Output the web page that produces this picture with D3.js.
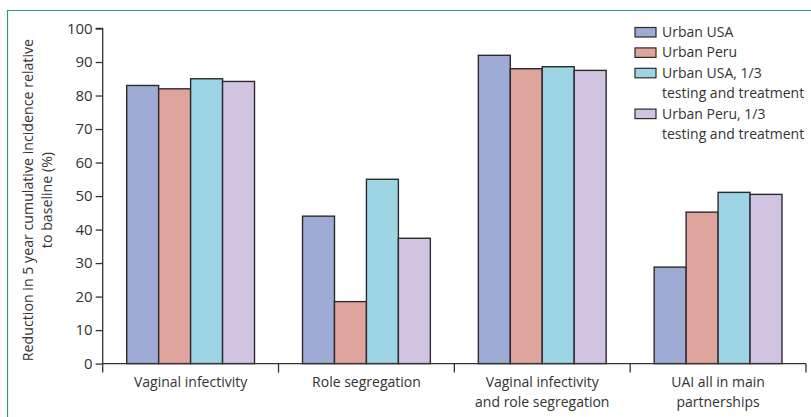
<!DOCTYPE html>
<html>
<head>
<meta charset="utf-8">
<script src="https://cdn.jsdelivr.net/npm/d3@7"></script>
<style>
    body { margin: 0; background: #fff; }
    text { font-family: 'Open Sans', sans-serif; fill: #333; }
</style>
</head>
<body>
<svg id="chart" width="811" height="417"></svg>
<script>
var categories = [
    ['Vaginal infectivity'],
    ['Role segregation'],
    ['Vaginal infectivity', 'and role segregation'],
    ['UAI all in main', 'partnerships']
];
var seriesNames = [
    ['Urban USA'],
    ['Urban Peru'],
    ['Urban USA, 1/3', 'testing and treatment'],
    ['Urban Peru, 1/3', 'testing and treatment']
];
var seriesColors = ['#9eabd4', '#e0a49f', '#9dd5e4', '#d2c4e0'];
var urbanUSA = [83, 44, 92, 28.8];
var urbanPeru = [82, 18.5, 88, 45.2];
var urbanUSA13 = [85, 55, 88.6, 51.1];
var urbanPeru13 = [84.2, 37.4, 87.5, 50.5];
var yTicks = [0, 10, 20, 30, 40, 50, 60, 70, 80, 90, 100];

var series = [urbanUSA, urbanPeru, urbanUSA13, urbanPeru13];

var svg = d3.select('#chart');

var plotLeft = 102.7,
    plotRight = 806,
    plotTop = 28.5,
    plotBottom = 363.6;

// green frame
svg.append('path')
    .attr('d', 'M7.5,417 V10.5 H811')
    .attr('fill', 'none')
    .attr('stroke', '#2e9c6c')
    .attr('stroke-width', 1.2);

var x = d3.scaleBand()
    .domain(d3.range(categories.length))
    .range([plotLeft, plotRight]);

var x1 = d3.scaleBand()
    .domain(d3.range(series.length))
    .range([24, x.bandwidth() - 24]);

var y = d3.scaleLinear()
    .domain([0, 100])
    .range([plotBottom, plotTop]);

// bars
var group = svg.append('g').attr('class', 'plot')
    .selectAll('.group')
    .data(categories)
    .enter().append('g')
    .attr('class', 'group')
    .attr('transform', function (d, i) {
        return 'translate(' + x(i) + ',0)';
    });

group.selectAll('rect')
    .data(function (d, i) {
        return series.map(function (s, j) { return { s: j, v: s[i] }; });
    })
    .enter().append('rect')
    .attr('x', function (d) { return x1(d.s); })
    .attr('y', function (d) { return y(d.v); })
    .attr('width', x1.bandwidth())
    .attr('height', function (d) { return plotBottom - y(d.v); })
    .attr('fill', function (d) { return seriesColors[d.s]; })
    .attr('stroke', '#2b2b2b')
    .attr('stroke-width', 1.4);

// y axis
var yAxis = svg.append('g')
    .attr('transform', 'translate(' + plotLeft + ',0)')
    .call(d3.axisLeft(y).tickValues(yTicks).tickSize(7).tickPadding(3));
yAxis.attr('font-size', null).attr('font-family', null);
yAxis.selectAll('path, line').attr('stroke', '#333').attr('stroke-width', 1.3);
yAxis.selectAll('text')
    .style('font-size', '15px')
    .attr('fill', '#333');
yAxis.select('.domain').attr('d', 'M-7,' + plotTop + 'H0V' + plotBottom);

// x axis
var xAxis = svg.append('g')
    .attr('transform', 'translate(0,' + plotBottom + ')');
xAxis.append('line')
    .attr('x1', plotLeft).attr('x2', plotRight)
    .attr('stroke', '#333').attr('stroke-width', 1.3);
xAxis.selectAll('.tick')
    .data(d3.range(categories.length + 1))
    .enter().append('line')
    .attr('x1', function (d) { return plotLeft + d * x.bandwidth(); })
    .attr('x2', function (d) { return plotLeft + d * x.bandwidth(); })
    .attr('y1', 0).attr('y2', 9)
    .attr('stroke', '#333').attr('stroke-width', 1.3);

var catLabel = svg.append('g').selectAll('text')
    .data(categories)
    .enter().append('text')
    .attr('x', function (d, i) { return x(i) + x.bandwidth() / 2; })
    .attr('y', 386.5)
    .attr('text-anchor', 'middle')
    .style('font-size', '14px');
catLabel.selectAll('tspan')
    .data(function (d) { return d; })
    .enter().append('tspan')
    .attr('x', function () { return d3.select(this.parentNode).attr('x'); })
    .attr('dy', function (d, i) { return i == 0 ? 0 : 20; })
    .text(function (d) { return d; });

// y title
var yTitle = svg.append('text')
    .attr('transform', 'translate(0,' + ((plotTop + plotBottom) / 2 + 4) + ') rotate(-90)')
    .attr('text-anchor', 'middle')
    .style('font-size', '14.2px');
yTitle.append('tspan').attr('x', 0).attr('y', 33)
    .text('Reduction in 5 year cumulative incidence relative');
yTitle.append('tspan').attr('x', 0).attr('y', 52)
    .text('to baseline (%)');

// legend
var legendItem = svg.append('g')
    .attr('class', 'legend')
    .selectAll('.item')
    .data(seriesNames)
    .enter().append('g')
    .attr('class', 'item')
    .attr('transform', function (d, i) {
        var row = 0;
        for (var k = 0; k < i; k++) row += seriesNames[k].length;
        return 'translate(635,' + (27.5 + row * 20.4) + ')';
    });

legendItem.append('rect')
    .attr('width', 21)
    .attr('height', 9.5)
    .attr('fill', function (d, i) { return seriesColors[i]; })
    .attr('stroke', '#2b2b2b')
    .attr('stroke-width', 1.2);

legendItem.append('text')
    .attr('y', 9.5)
    .style('font-size', '14px')
    .selectAll('tspan')
    .data(function (d) { return d; })
    .enter().append('tspan')
    .attr('x', 27)
    .attr('dy', function (d, i) { return i == 0 ? 0 : 20.4; })
    .text(function (d) { return d; });
</script>
</body>
</html>
